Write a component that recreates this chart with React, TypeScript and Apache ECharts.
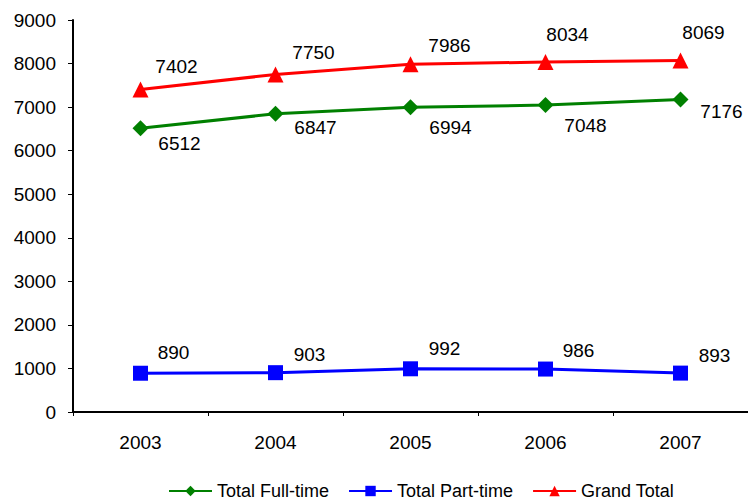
import React, { useEffect, useRef } from "react";
import * as echarts from "echarts";

const years = ["2003", "2004", "2005", "2006", "2007"];
const fullTime = [6512, 6847, 6994, 7048, 7176];
const partTime = [890, 903, 992, 986, 893];
const grandTotal = [7402, 7750, 7986, 8034, 8069];

// label placement (pixels, relative to each point)
const fullOffsets = [[39, 15], [40, 14], [40, 20], [40, 20], [41, 12]];
const partOffsets = [[33, -21], [34, -18], [34, -20], [33, -19], [34, -18]];
const grandOffsets = [[36, -23], [38, -22], [39, -19], [22, -28], [23, -28]];

const FONT = "'Liberation Sans', Arial, sans-serif";

export default function App() {
  const ref = useRef<HTMLDivElement>(null);
  useEffect(() => {
    if (!ref.current) return;
    const chart = echarts.init(ref.current, undefined, { renderer: "svg" });
    const withLabels = (vals: number[], offs: number[][]) =>
      vals.map((v, i) => ({
        value: v,
        label: {
          show: true,
          position: "inside",
          offset: offs[i],
          color: "#000",
          fontSize: 19,
          fontFamily: FONT,
        },
      }));
    chart.setOption({
      animation: false,
      backgroundColor: "#fff",
      textStyle: { fontFamily: FONT },
      grid: { left: 73, right: -3, top: 20, bottom: 90 },
      legend: {
        bottom: -3,
        left: 163,
        itemWidth: 43,
        itemHeight: 13,
        itemGap: 19,
        textStyle: { fontSize: 18, color: "#000", fontFamily: FONT },
        data: ["Total Full-time", "Total Part-time", "Grand Total"],
      },
      xAxis: {
        type: "category",
        data: years,
        boundaryGap: true,
        axisLine: { lineStyle: { color: "#000", width: 2 } },
        axisTick: { show: true, length: 4, lineStyle: { color: "#000" } },
        axisLabel: { color: "#000", fontSize: 19, margin: 21, fontFamily: FONT },
      },
      yAxis: {
        type: "value",
        min: 0,
        max: 9000,
        interval: 1000,
        splitLine: { show: false },
        axisLine: { show: true, lineStyle: { color: "#000", width: 2 } },
        axisTick: { show: true, length: 5, lineStyle: { color: "#000" } },
        axisLabel: {
          color: "#000",
          fontSize: 19,
          margin: 17,
          fontFamily: FONT,
          formatter: (v: number) => String(v),
        },
      },
      series: [
        {
          name: "Total Full-time",
          type: "line",
          data: withLabels(fullTime, fullOffsets),
          color: "#008000",
          lineStyle: { width: 3 },
          symbol: "diamond",
          symbolSize: 16,
        },
        {
          name: "Total Part-time",
          type: "line",
          data: withLabels(partTime, partOffsets),
          color: "#0000FF",
          lineStyle: { width: 3 },
          symbol: "rect",
          symbolSize: 15,
        },
        {
          name: "Grand Total",
          type: "line",
          data: withLabels(grandTotal, grandOffsets),
          color: "#FF0000",
          lineStyle: { width: 3 },
          symbol: "triangle",
          symbolSize: 16,
        },
      ],
    });
    return () => chart.dispose();
  }, []);
  return <div ref={ref} style={{ width: 748, height: 502, position: "absolute", left: 0, top: 0 }} />;
}
